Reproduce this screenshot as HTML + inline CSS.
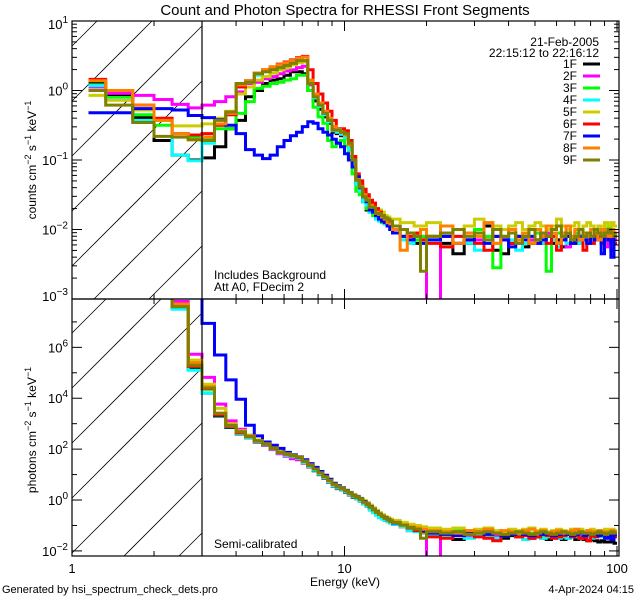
<!DOCTYPE html>
<html><head><meta charset="utf-8"><style>
html,body{margin:0;padding:0;background:#fff;width:640px;height:600px;overflow:hidden;}
svg{display:block;}
svg text{font-family:"Liberation Sans",sans-serif;fill:#000;}
</style></head><body>
<svg id="chart" width="640" height="600" viewBox="0 0 640 600" xmlns="http://www.w3.org/2000/svg">
<defs>
<clipPath id="clipTop"><rect x="72" y="21" width="547" height="278"/></clipPath>
<clipPath id="clipBot"><rect x="72" y="299" width="547" height="257"/></clipPath>
</defs>
<text x="345" y="15" font-size="15" text-anchor="middle">Count and Photon Spectra for RHESSI Front Segments</text>
<g id="hatch"></g>
<g id="seriesTop" clip-path="url(#clipTop)"></g>
<g id="seriesBot" clip-path="url(#clipBot)"></g>
<g id="axes"></g>
<text x="214" y="279" font-size="12">Includes Background</text>
<text x="214" y="291" font-size="12">Att A0, FDecim 2</text>
<text x="214" y="548" font-size="12">Semi-calibrated</text>
<text x="599" y="46" font-size="12" text-anchor="end">21-Feb-2005</text>
<text x="599" y="57" font-size="12" text-anchor="end">22:15:12 to 22:16:12</text>
<g id="legend"></g>
<text transform="translate(36,160) rotate(-90)" font-size="12" text-anchor="middle">counts cm<tspan font-size="9" dy="-5">−2</tspan><tspan dy="5"> s</tspan><tspan font-size="9" dy="-5">−1</tspan><tspan dy="5"> keV</tspan><tspan font-size="9" dy="-5">−1</tspan></text>
<text transform="translate(36,430) rotate(-90)" font-size="12" text-anchor="middle">photons cm<tspan font-size="9" dy="-5">−2</tspan><tspan dy="5"> s</tspan><tspan font-size="9" dy="-5">−1</tspan><tspan dy="5"> keV</tspan><tspan font-size="9" dy="-5">−1</tspan></text>
<text x="345" y="586" font-size="12" text-anchor="middle">Energy (keV)</text>
<text x="2" y="593" font-size="11">Generated by hsi_spectrum_check_dets.pro</text>
<text x="634" y="593" font-size="11" text-anchor="end">4-Apr-2024 04:15</text>
</svg>
<script>
const detNames=["1F","2F","3F","4F","5F","6F","7F","8F","9F"];
const detColors=["#000000","#ff00ff","#00ff00","#00ffff","#cccc00","#ff0000","#0000ff","#ff8000","#808000"];
const xTickLabels=["1","10","100"];
const xTickValues=[1,10,100];
const topYTicks=[1,0,-1,-2,-3];
const botYTicks=[6,4,2,0,-2];
const edgesLow=[1.15,1.33,1.67,2,2.33,2.67];
// log10 count spectra (top)
const top1=[0.1,-0.07,-0.39,-0.72,-0.93,-1.0,-0.97,-0.81,-0.55,-0.43,-0.09,0.0,0.1,0.15,0.17,0.22,0.27,0.27,0.24,0.0,-0.15,-0.27,-0.38,-0.47,-0.6,-0.62,-0.65,-0.68,-0.8,-1.05,-1.35,-1.45,-1.6,-1.72,-1.75,-1.7,-1.8,-1.85,-1.88,-1.92,-1.95,-2.0,-2.0,-2.1,-2.15,-2.2,-2.1,-2.1,-2.2,-2.35,-2.2,-2.05,-1.95,-2.3,-2.35,-2.2,-2.1,-2.25,-2.2,-2.15,-2.2,-2.1,-2.2,-2.15,-2.25,-2.2,-2.15,-2.2,-2.1,-2.15,-2.2,-2.2,-2.15,-2.1,-2.2,-2.15,-2.2,-2.15,-2.1];
const top2=[0.05,-0.04,-0.07,-0.13,-0.2,-0.25,-0.21,-0.16,-0.09,-0.02,0.1,0.12,0.17,0.2,0.24,0.28,0.3,0.33,0.35,0.08,-0.1,-0.22,-0.35,-0.45,-0.55,-0.6,-0.63,-0.66,-0.8,-1.02,-1.3,-1.4,-1.55,-1.6,-1.7,-1.7,-1.78,-1.8,-1.82,-1.86,-1.9,-1.92,-1.95,-2.0,-2.05,-2.1,-2.15,-3.3,-2.1,-2.2,-2.05,-2.15,-2.1,-2.2,-2.15,-2.05,-2.2,-2.1,-2.15,-2.2,-2.1,-2.05,-2.15,-2.2,-2.1,-2.25,-2.15,-2.1,-2.2,-2.15,-2.1,-2.2,-2.15,-2.1,-2.2,-2.25,-2.1,-2.3,-2.15];
const top3=[0.08,-0.1,-0.35,-0.5,-0.62,-0.68,-0.68,-0.55,-0.55,-0.33,-0.16,0.03,0.06,0.1,0.12,0.15,0.17,0.22,0.22,0.0,-0.24,-0.38,-0.47,-0.72,-0.81,-0.75,-0.72,-0.8,-0.95,-1.2,-1.45,-1.5,-1.6,-1.7,-1.75,-1.8,-1.78,-1.85,-1.9,-1.92,-1.95,-1.98,-2.0,-2.1,-2.05,-2.15,-2.1,-2.1,-2.05,-2.2,-2.15,-2.0,-2.1,-2.55,-2.1,-2.05,-2.15,-2.1,-2.2,-2.05,-2.1,-2.6,-2.15,-2.05,-2.1,-2.2,-2.1,-2.05,-2.15,-2.1,-2.2,-2.1,-2.15,-2.05,-2.1,-2.15,-1.95,-2.1,-2.05];
const top4=[0.07,-0.13,-0.43,-0.43,-0.93,-1.01,-0.76,-0.5,-0.35,0.05,0.12,0.22,0.27,0.32,0.35,0.38,0.4,0.44,0.43,0.1,-0.1,-0.23,-0.35,-0.45,-0.58,-0.6,-0.63,-0.68,-0.85,-1.05,-1.35,-1.45,-1.6,-1.65,-1.75,-1.75,-1.85,-1.88,-1.85,-1.92,-1.95,-2.0,-2.05,-2.15,-2.2,-2.1,-2.2,-2.15,-2.25,-2.1,-2.2,-2.3,-2.15,-2.2,-2.1,-2.15,-2.3,-2.2,-2.1,-2.15,-2.2,-2.1,-2.15,-2.25,-2.1,-2.2,-2.15,-2.1,-2.2,-2.15,-2.1,-2.2,-2.15,-2.1,-2.2,-2.15,-2.1,-2.2,-2.1];
const top5=[-0.07,-0.14,-0.28,-0.43,-0.51,-0.51,-0.48,-0.4,-0.3,-0.05,0.05,0.15,0.2,0.25,0.3,0.33,0.37,0.4,0.41,0.12,-0.05,-0.18,-0.3,-0.4,-0.52,-0.56,-0.6,-0.62,-0.75,-0.98,-1.25,-1.35,-1.48,-1.52,-1.6,-1.65,-1.7,-1.72,-1.75,-1.8,-1.82,-1.85,-1.85,-1.9,-1.9,-1.95,-1.95,-1.9,-1.95,-2.0,-1.95,-1.85,-1.9,-1.95,-2.0,-1.95,-1.9,-2.0,-1.95,-1.9,-1.95,-2.0,-1.95,-1.85,-1.95,-2.0,-1.95,-1.9,-2.0,-1.95,-1.9,-1.95,-2.0,-1.95,-2.0,-1.9,-1.95,-1.9,-1.95];
const top6=[0.16,0.0,-0.21,-0.4,-0.62,-0.64,-0.62,-0.5,-0.35,0.05,0.14,0.25,0.3,0.34,0.38,0.41,0.44,0.47,0.49,0.3,0.1,-0.05,-0.18,-0.3,-0.43,-0.55,-0.55,-0.58,-0.72,-0.95,-1.2,-1.3,-1.42,-1.5,-1.58,-1.62,-1.7,-1.75,-1.8,-1.85,-1.88,-1.9,-1.95,-2.0,-2.1,-2.05,-2.15,-2.2,-2.25,-2.1,-2.15,-2.2,-2.3,-2.1,-2.15,-2.2,-2.1,-2.05,-2.2,-2.15,-2.1,-2.2,-2.1,-2.3,-2.15,-2.1,-2.2,-2.15,-2.1,-2.3,-2.15,-2.2,-2.1,-2.15,-2.2,-2.1,-2.15,-2.1,-2.2];
const top7=[-0.32,-0.32,-0.26,-0.26,-0.28,-0.36,-0.39,-0.42,-0.5,-0.62,-0.85,-0.93,-0.98,-0.93,-0.81,-0.72,-0.65,-0.6,-0.52,-0.45,-0.47,-0.55,-0.6,-0.64,-0.7,-0.76,-0.81,-0.91,-1.0,-1.1,-1.24,-1.4,-1.53,-1.6,-1.72,-1.75,-1.8,-1.85,-1.88,-1.9,-1.95,-2.0,-2.05,-2.1,-2.15,-2.1,-2.2,-2.15,-2.1,-2.2,-2.15,-2.05,-2.2,-2.1,-2.15,-2.25,-2.1,-2.15,-2.1,-2.2,-2.15,-2.1,-2.05,-2.2,-2.15,-2.1,-2.2,-2.15,-2.1,-2.15,-2.2,-2.1,-2.15,-2.1,-2.35,-2.1,-2.15,-2.4,-2.1];
const top8=[0.14,0.0,-0.21,-0.43,-0.62,-0.71,-0.67,-0.48,-0.33,0.08,0.14,0.25,0.3,0.34,0.37,0.4,0.43,0.46,0.48,0.15,-0.05,-0.18,-0.3,-0.4,-0.52,-0.56,-0.6,-0.64,-0.78,-1.0,-1.28,-1.38,-1.5,-1.56,-1.65,-1.68,-1.75,-1.78,-1.82,-1.85,-1.9,-1.92,-2.0,-2.3,-2.05,-2.1,-2.0,-2.1,-1.95,-2.2,-2.05,-2.1,-1.9,-2.2,-2.1,-2.0,-2.15,-2.05,-2.2,-2.0,-2.1,-1.95,-2.05,-2.2,-2.05,-1.95,-2.1,-2.0,-2.15,-2.05,-2.1,-2.0,-2.05,-2.15,-2.0,-2.05,-2.1,-2.0,-2.05];
const top9=[0.0,-0.21,-0.46,-0.66,-0.67,-0.71,-0.72,-0.43,-0.31,0.1,0.12,0.24,0.27,0.3,0.33,0.36,0.39,0.43,0.43,0.1,-0.09,-0.21,-0.33,-0.43,-0.57,-0.57,-0.6,-0.62,-0.76,-1.0,-1.29,-1.39,-1.53,-1.58,-1.68,-1.68,-1.77,-1.77,-1.8,-1.83,-1.85,-1.88,-1.95,-2.0,-2.05,-2.1,-2.6,-2.1,-2.05,-2.0,-2.1,-2.05,-2.15,-2.0,-2.1,-2.05,-2.2,-2.1,-2.0,-2.15,-2.05,-2.1,-2.0,-1.95,-2.1,-2.05,-2.15,-2.1,-2.0,-2.1,-2.05,-2.1,-2.0,-2.05,-2.1,-2.05,-2.0,-2.05,-2.1];
// log10 photon spectra (bottom)
const bot1=[9,9,9,9,7.55,5.17,4.2,3.3,2.85,2.6,2.45,2.28,2.15,2.0,1.83,1.75,1.7,1.63,1.45,1.3,1.15,1.0,0.85,0.7,0.55,0.45,0.4,0.3,0.2,0.1,0.05,-0.05,-0.15,-0.25,-0.35,-0.45,-0.55,-0.62,-0.72,-0.8,-0.85,-0.9,-0.95,-1.05,-1.2,-1.15,-1.3,-1.35,-1.4,-1.55,-1.4,-1.35,-1.45,-1.55,-1.5,-1.4,-1.45,-1.55,-1.5,-1.45,-1.5,-1.55,-1.45,-1.5,-1.55,-1.5,-1.45,-1.55,-1.5,-1.55,-1.6,-1.55,-1.6,-1.65,-1.6,-1.65,-1.65,-1.6,-1.7];
const bot2=[9,9,9,9,7.8,5.73,4.82,3.77,3.11,2.78,2.5,2.3,2.15,1.98,1.82,1.72,1.62,1.58,1.45,1.32,1.18,1.02,0.88,0.72,0.58,0.48,0.42,0.32,0.22,0.12,0.05,-0.03,-0.12,-0.22,-0.32,-0.42,-0.52,-0.6,-0.68,-0.75,-0.8,-0.85,-0.9,-1.0,-1.1,-1.2,-1.25,-2.3,-1.35,-1.3,-1.4,-1.35,-1.3,-1.4,-1.35,-1.3,-1.45,-1.4,-1.35,-1.3,-1.4,-1.35,-1.45,-1.4,-1.35,-1.3,-1.4,-1.35,-1.45,-1.4,-1.35,-1.4,-1.3,-1.35,-1.4,-1.45,-1.4,-1.5,-1.4];
const bot3=[9,9,9,9,7.65,5.25,4.35,3.38,2.92,2.67,2.5,2.33,2.2,2.04,1.88,1.8,1.74,1.66,1.5,1.35,1.2,1.05,0.9,0.76,0.62,0.52,0.46,0.36,0.26,0.17,0.1,0.02,-0.08,-0.18,-0.28,-0.38,-0.48,-0.58,-0.66,-0.73,-0.78,-0.84,-0.87,-0.97,-1.05,-1.12,-1.2,-1.25,-1.3,-1.2,-1.3,-1.35,-1.25,-1.3,-1.4,-1.3,-1.35,-1.25,-1.3,-1.35,-1.45,-1.3,-1.35,-1.3,-1.25,-1.35,-1.3,-1.35,-1.3,-1.25,-1.35,-1.3,-1.35,-1.3,-1.4,-1.3,-1.2,-1.3,-1.35];
const bot4=[9,9,9,9,7.5,5.1,4.2,3.35,2.88,2.62,2.46,2.3,2.17,2.01,1.85,1.76,1.7,1.64,1.47,1.32,1.17,1.02,0.87,0.72,0.57,0.47,0.42,0.32,0.22,0.12,0.05,-0.05,-0.15,-0.25,-0.4,-0.5,-0.6,-0.7,-0.75,-0.8,-0.85,-0.9,-0.95,-1.05,-1.2,-1.25,-1.3,-1.4,-1.45,-1.35,-1.5,-1.4,-1.45,-1.5,-1.4,-1.35,-1.45,-1.55,-1.45,-1.4,-1.5,-1.45,-1.4,-1.5,-1.45,-1.5,-1.4,-1.45,-1.5,-1.4,-1.45,-1.5,-1.4,-1.45,-1.4,-1.5,-1.45,-1.4,-1.45];
const bot5=[9,9,9,9,7.7,5.5,4.55,3.6,3.0,2.72,2.55,2.36,2.22,2.06,1.9,1.82,1.76,1.69,1.53,1.38,1.23,1.08,0.93,0.78,0.63,0.53,0.48,0.38,0.3,0.22,0.15,0.07,-0.02,-0.1,-0.2,-0.3,-0.4,-0.5,-0.58,-0.65,-0.7,-0.75,-0.8,-0.88,-0.95,-1.0,-1.05,-1.1,-1.15,-1.1,-1.2,-1.15,-1.1,-1.2,-1.25,-1.15,-1.2,-1.15,-1.1,-1.2,-1.15,-1.25,-1.2,-1.15,-1.2,-1.25,-1.15,-1.2,-1.15,-1.25,-1.2,-1.15,-1.2,-1.25,-1.2,-1.15,-1.2,-1.15,-1.2];
const bot6=[9,9,9,9,7.6,5.25,4.38,3.36,2.9,2.65,2.5,2.32,2.19,2.03,1.87,1.8,1.74,1.67,1.52,1.37,1.22,1.07,0.92,0.77,0.62,0.52,0.46,0.36,0.26,0.16,0.1,0.02,-0.08,-0.18,-0.28,-0.38,-0.48,-0.56,-0.64,-0.72,-0.78,-0.84,-0.9,-1.0,-1.1,-1.2,-1.25,-1.45,-1.5,-1.4,-1.35,-1.45,-1.5,-1.6,-1.4,-1.35,-1.45,-1.4,-1.5,-1.45,-1.35,-1.4,-1.5,-1.45,-1.4,-1.35,-1.45,-1.4,-1.5,-1.45,-1.6,-1.4,-1.45,-1.4,-1.35,-1.4,-1.45,-1.4,-1.45];
const bot7=[9,9,9,9,9,9,6.94,5.7,4.72,3.96,2.94,2.52,2.28,2.15,2.03,1.87,1.78,1.7,1.58,1.43,1.28,1.12,0.97,0.82,0.66,0.56,0.48,0.38,0.28,0.18,0.12,0.04,-0.06,-0.16,-0.26,-0.36,-0.46,-0.55,-0.63,-0.7,-0.76,-0.82,-0.9,-0.98,-1.08,-1.15,-1.2,-1.3,-1.35,-1.4,-1.3,-1.25,-1.35,-1.3,-1.4,-1.35,-1.3,-1.35,-1.4,-1.3,-1.35,-1.3,-1.4,-1.35,-1.3,-1.35,-1.4,-1.35,-1.3,-1.4,-1.35,-1.3,-1.35,-1.4,-1.35,-1.5,-1.35,-1.55,-1.35];
const bot8=[9,9,9,9,7.7,5.4,4.45,3.42,2.95,2.68,2.52,2.34,2.21,2.05,1.89,1.82,1.76,1.69,1.53,1.38,1.22,1.06,0.91,0.76,0.62,0.52,0.46,0.36,0.26,0.17,0.1,0.02,-0.08,-0.18,-0.28,-0.38,-0.48,-0.56,-0.64,-0.72,-0.78,-0.83,-0.87,-1.0,-1.05,-1.1,-1.15,-1.2,-1.25,-1.3,-1.2,-1.25,-1.15,-1.3,-1.2,-1.25,-1.3,-1.2,-1.15,-1.25,-1.2,-1.3,-1.25,-1.2,-1.3,-1.25,-1.2,-1.15,-1.25,-1.3,-1.2,-1.25,-1.3,-1.2,-1.25,-1.3,-1.25,-1.2,-1.25];
const bot9=[9,9,9,9,7.6,5.3,4.4,3.4,2.93,2.68,2.5,2.33,2.2,2.04,1.88,1.81,1.75,1.68,1.52,1.37,1.22,1.07,0.92,0.77,0.62,0.52,0.46,0.36,0.26,0.16,0.1,0.02,-0.08,-0.18,-0.28,-0.38,-0.48,-0.56,-0.64,-0.72,-0.78,-0.84,-0.88,-0.98,-1.08,-1.15,-1.5,-1.25,-1.3,-1.25,-1.35,-1.3,-1.25,-1.3,-1.35,-1.3,-1.25,-1.3,-1.35,-1.3,-1.25,-1.3,-1.35,-1.3,-1.25,-1.3,-1.35,-1.3,-1.25,-1.3,-1.3,-1.35,-1.3,-1.25,-1.3,-1.35,-1.3,-1.25,-1.3];
const topSeries=[top1,top2,top3,top4,top5,top6,top7,top8,top9];
const botSeries=[bot1,bot2,bot3,bot4,bot5,bot6,bot7,bot8,bot9];

const NS="http://www.w3.org/2000/svg";
const svg=document.getElementById('chart');
const edges=edgesLow.slice();
for(let i=0;i<=36;i++) edges.push(3+i/3);
for(let e=16;e<=20;e++) edges.push(e);
for(let e=22.5;e<=100.01;e+=2.5) edges.push(e);

const X0=72,X1=619,XMAX=Math.log10(100)+2/272.5;
function xScale(e){return X0+(Math.log10(e))/XMAX*(X1-X0);}
const TOP={y0:21,y1:299,lmin:-3,lmax:1};
const BOT={y0:299,y1:556,lmin:-2.2,lmax:7.9};
function yScale(p,l){return p.y1-(l-p.lmin)/(p.lmax-p.lmin)*(p.y1-p.y0);}

function mk(tag,attrs,parent){const el=document.createElementNS(NS,tag);for(const k in attrs)el.setAttribute(k,attrs[k]);parent.appendChild(el);return el;}

// hatch lines computed exactly inside region x 72..202
const hatch=document.getElementById('hatch');
const HX1=202;
[TOP,BOT].forEach((p,pi)=>{
  const g=mk('g',{},hatch);
  
  
  for(let k=-8;k<12;k++){
    const yb=p.y1+(pi===0?-33:-3)-k*55; // y at x=X0; y = yb-(x-X0)
    let xa=Math.max(X0, X0+yb-p.y1), xb=Math.min(HX1, X0+yb-p.y0);
    if(xb-xa<1) continue;
    mk('line',{x1:xa,y1:yb-(xa-X0),x2:xb,y2:yb-(xb-X0),stroke:'#000','stroke-width':0.8},g);
  }
});

function stepPath(vals,p){
  let d='';
  for(let i=0;i<vals.length;i++){
    const xa=xScale(edges[i]).toFixed(1),xb=xScale(edges[i+1]).toFixed(1);
    const lv=Math.max(p.lmin-0.05,Math.min(p.lmax+0.05,vals[i]));
    const y=yScale(p,lv).toFixed(1);
    d+= (i===0?'M'+xa+' '+y:'V'+y)+'H'+xb;
  }
  return d;
}
const gT=document.getElementById('seriesTop'),gB=document.getElementById('seriesBot');
topSeries.forEach((v,i)=>{
  const el=mk('path',{d:stepPath(v,TOP),fill:'none',stroke:detColors[i],'stroke-width':3,'stroke-linejoin':'miter'},gT);
  
  
});
botSeries.forEach((v,i)=>{
  const el=mk('path',{d:stepPath(v,BOT),fill:'none',stroke:detColors[i],'stroke-width':3,'stroke-linejoin':'miter'},gB);
  
  
});

const ax=document.getElementById('axes');
function line(x1,y1,x2,y2,w){return mk('line',{x1,y1,x2,y2,stroke:'#000','stroke-width':w||1},ax);}
[TOP,BOT].forEach((p,pi)=>{
  const r=mk('rect',{x:X0,y:p.y0,width:X1-X0,height:p.y1-p.y0,fill:'none',stroke:'#000','stroke-width':1.2},ax);
  
  
  for(let dec=1;dec<=100;dec*=10){for(let m=1;m<10;m++){const e=dec*m;if(e>100)break;const x=xScale(e);const L=(m===1)?10:5;
    line(x,p.y1,x,p.y1-L);line(x,p.y0,x,p.y0+L);}}
  for(let d=Math.ceil(p.lmin)-1;d<=p.lmax;d++){
    for(let m=1;m<10;m++){
      const l=d+Math.log10(m);if(l<p.lmin||l>p.lmax)continue;
      if(pi===1&&m!==1)continue;
      const y=yScale(p,l);
      const major=(m===1)&&(pi===0||((d%2)===0));
      const L=major?10:5;
      line(X0,y,X0+L,y);line(X1,y,X1-L,y);
    }
  }
});
const cut=line(202,TOP.y0,202,BOT.y1,1.2);


function expLabel(x,y,exp,name){
  const t=mk('text',{x:x,y:y,'font-size':13,'text-anchor':'end'},ax);
  
  
  const a=document.createElementNS(NS,'tspan');a.textContent='10';t.appendChild(a);
  const b=document.createElementNS(NS,'tspan');b.setAttribute('dy','-6');b.setAttribute('font-size','10');b.textContent=String(exp).replace('-','−');t.appendChild(b);
}
topYTicks.forEach(d=>{const y=yScale(TOP,d);expLabel(68,y+5+(d===-3?-3:0)+(d===1?3:0),d,'top-y-tick-label');});
botYTicks.forEach(d=>{const y=yScale(BOT,d);expLabel(68,y+5,d,'bottom-y-tick-label');});
xTickValues.forEach((v,i)=>{const t=mk('text',{x:xScale(v),y:573,'font-size':13,'text-anchor':'middle'},ax);t.textContent=xTickLabels[i];
  
  });

const lg=document.getElementById('legend');
detNames.forEach((n,i)=>{
  const g=mk('g',{},lg);
  
  
  const y=68+i*12;
  const t=mk('text',{x:577,y:y,'font-size':12,'text-anchor':'end'},g);t.textContent=n;
  mk('line',{x1:583,y1:y-4,x2:600,y2:y-4,stroke:detColors[i],'stroke-width':3},g);
});
</script>
</body></html>
